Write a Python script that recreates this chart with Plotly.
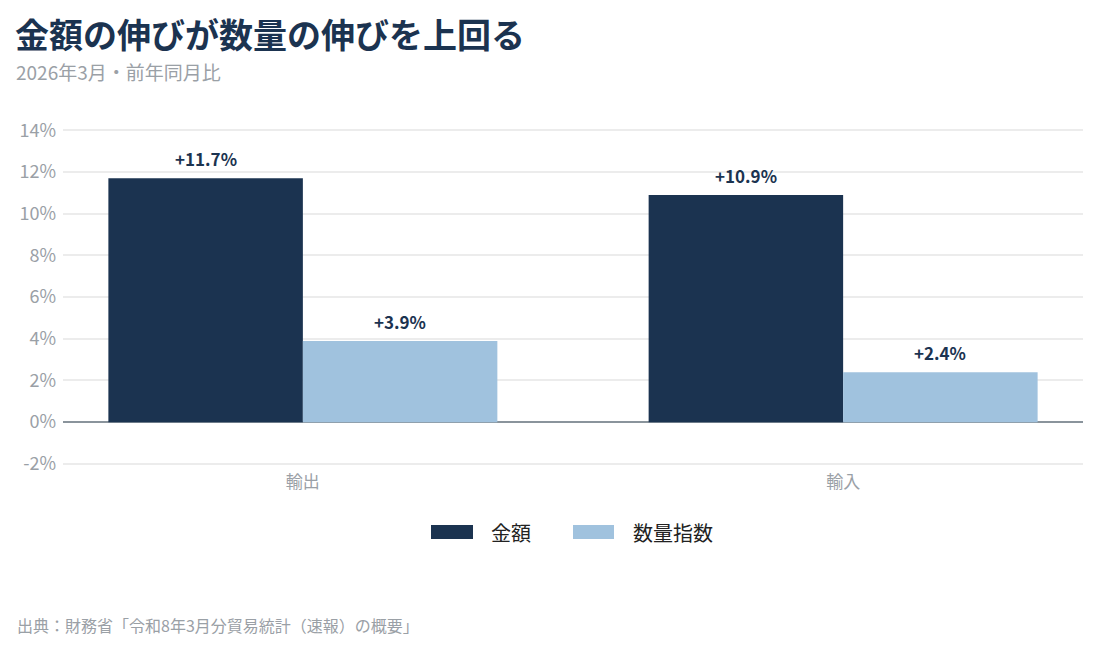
import plotly.graph_objects as go

categories = ["輸出", "輸入"]
series_names = ["金額", "数量指数"]
value_growth = [11.7, 10.9]
volume_growth = [3.9, 2.4]
y_ticks = [-2, 0, 2, 4, 6, 8, 10, 12, 14]
y_tick_labels = [f"{v}%" for v in y_ticks]

NAVY = "#1b3350"
LIGHT = "#a0c2de"
GRAY = "#9aa0a6"
FONT = "'Noto Sans CJK JP', 'Noto Sans', sans-serif"

BARGAP = 0.28
series = [(series_names[0], value_growth, NAVY), (series_names[1], volume_growth, LIGHT)]
n_series = len(series)
bar_w = (1 - BARGAP) / n_series

fig = go.Figure()
annotations = []
for k, (name, vals, col) in enumerate(series):
    fig.add_trace(go.Bar(
        x=categories, y=vals, name=name, marker=dict(color=col, line=dict(width=0)),
        showlegend=False, hoverinfo="x+y+name",
    ))
    offset = (k - (n_series - 1) / 2) * bar_w
    for i, v in enumerate(vals):
        annotations.append(dict(
            x=i + offset, y=v, xref="x", yref="y", text=f"<b>+{v:.1f}%</b>",
            showarrow=False, xanchor="center", yanchor="bottom", yshift=5,
            font=dict(family=FONT, size=17, color=NAVY),
        ))

# figure-pixel helpers for paper placement (plot area: x 55..1075, y 112..460)
L, R, T, B = 55, 1075, 112, 460
def px(xp):
    return (xp - L) / (R - L)
def py(yp):
    return (B - yp) / (B - T)

# custom legend (wide swatches)
legend_items = [(series_names[0], NAVY, 423, 465, 481), (series_names[1], LIGHT, 565, 606, 623)]
shapes = []
for name, col, x0, x1, tx in legend_items:
    shapes.append(dict(type="rect", xref="paper", yref="paper",
                       x0=px(x0), x1=px(x1), y0=py(531), y1=py(517),
                       fillcolor=col, line=dict(width=0)))
    annotations.append(dict(text=name, xref="paper", yref="paper", x=px(tx), y=py(524),
                            xanchor="left", yanchor="middle", showarrow=False,
                            font=dict(family=FONT, size=20, color="#222222")))

annotations += [
    dict(text="<b>金額の伸びが数量の伸びを上回る</b>", xref="paper", yref="paper",
         x=px(6), y=py(0), xanchor="left", yanchor="top", borderpad=0,
         showarrow=False, font=dict(family=FONT, size=34, color=NAVY)),
    dict(text="2026年3月・前年同月比", xref="paper", yref="paper",
         x=px(7), y=py(64), xanchor="left", yanchor="middle", borderpad=0,
         showarrow=False, font=dict(family=FONT, size=19, color=GRAY)),
    dict(text="出典：財務省「令和8年3月分貿易統計（速報）の概要」", xref="paper", yref="paper",
         x=px(7), y=py(617), xanchor="left", yanchor="middle",
         showarrow=False, font=dict(family=FONT, size=16, color=GRAY)),
]

fig.update_layout(
    width=1098, height=649,
    margin=dict(l=L, r=1098 - R, t=T, b=649 - B),
    paper_bgcolor="white", plot_bgcolor="white",
    barmode="group", bargap=BARGAP, bargroupgap=0,
    font=dict(family=FONT),
    showlegend=False,
    xaxis=dict(range=[-0.444, 1.444], showgrid=False, showline=False, ticks="",
               tickfont=dict(family=FONT, size=17, color=GRAY), ticklabelstandoff=2),
    yaxis=dict(range=[-2.2, 14.5], tickvals=y_ticks, ticktext=y_tick_labels,
               showgrid=True, gridcolor="#ececec", gridwidth=1.5,
               zeroline=True, zerolinecolor="#8a949c", zerolinewidth=2,
               tickfont=dict(family=FONT, size=18, color=GRAY),
               ticklabelstandoff=6),
    shapes=shapes,
    annotations=annotations,
)

fig.write_html("out.html")
